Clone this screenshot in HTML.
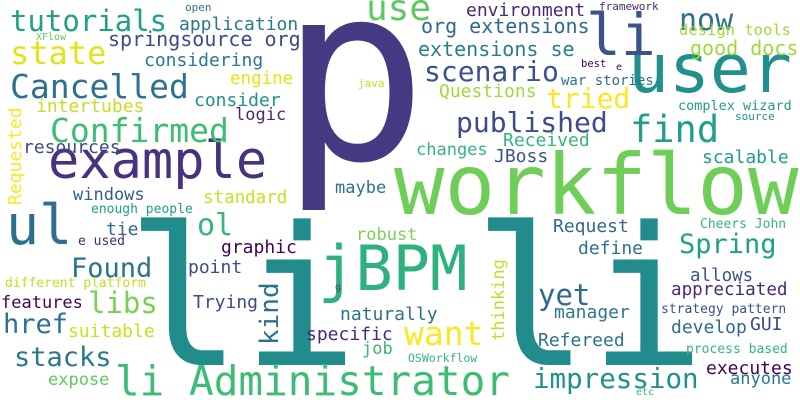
<!DOCTYPE html>
<html><head><meta charset="utf-8"><style>
html,body{margin:0;padding:0;background:#fff;}
svg{display:block;}
text{font-family:"DejaVu Sans Mono","Liberation Mono",monospace;}
</style></head>
<body>
<svg id="cloud" width="800" height="400" viewBox="0 0 800 400" xmlns="http://www.w3.org/2000/svg">
<rect width="800" height="400" fill="#fff"/>
</svg>
<script>
const words = ["p","workflow","li","li","jBPM","user","example","li","ul","li Administrator","find","Confirmed","Cancelled","use","state","want","Spring","kind","libs","yet","stacks","tutorials","Found","impression","published","scenario","tried","href","ol","now","springsource org","org extensions","extensions se","good docs","application","environment","considering","engine","consider","intertubes","logic","Requested","resources","windows","standard","maybe","Questions","Received","changes","JBoss","scalable","tie","graphic","point","Trying","robust","naturally","specific","job","features","suitable","expose","thinking","Request","define","manager","Refereed","allows","appreciated","GUI","develop","executes","anyone","war stories","design tools","complex wizard","enough people","e used","different platform","strategy pattern","Cheers John","process based","OSWorkflow","source","XFlow","open","framework","java","best","e","g","etc"];
const sizes = [245,84,193,193,62,68,52,58,55,41,37,33,33,36,32,33,27,26,29,29,27,29,27,27.5,28,28,28,27,30,30,20,20,20,20,18,18,18,17.5,18,18,17,18,18,17,17.5,17,18,18,17,18,18,18,18,18,18,17,18,18,17,17,18,17,17,18,18,18,18,17.5,17.6,18,18,18,17,14,15.5,13.5,13,13,13,13,13,13,11.5,11,10,11,11,11,10.5,10,10,10];
const colors = ["#443983","#6ece58","#228c8d","#228c8d","#2db27d","#21908d","#46327e","#3b528b","#2d708e","#3dbc74","#1f9e89","#3dbc74","#2c718e","#5ec962","#e2e418","#fde725","#1fa187","#2c718e","#7ad151","#31688e","#2a788e","#1fa187","#2c718e","#21918c","#3e4a89","#3b528b","#fde725","#2c718e","#35b779","#2c728e","#3e4a89","#31688e","#277f8e","#a0da39","#2a788e","#482878","#2a788e","#e2e418","#21918c","#c2df23","#482878","#fde725","#3e4a89","#365c8d","#c8e020","#2c728e","#a0da39","#35b779","#35b779","#3b528b","#1f9e89","#31688e","#440154","#3e4a89","#3e4a89","#7ad151","#2c718e","#482878","#35b779","#440154","#c8e020","#5ec962","#c2df23","#31688e","#2c728e","#2a788e","#2c728e","#3b528b","#482878","#3e4a89","#31688e","#440154","#2a788e","#2c728e","#a0da39","#1f9e89","#1fa187","#482878","#c2df23","#3b528b","#35b779","#35b779","#35b779","#21918c","#5ec962","#2a788e","#482878","#c2df23","#440154","#440154","#3e4a89","#35b779"];
const layoutX = [280,394,126,473,318,628,48,586,6,115,630,50,10,366,10,404,679,278,88,538,14,10,71,533,456,424,546,3,197,679,108,421,418,690,179,466,144,230,194,36,235,21,23,73,203,335,439,503,416,494,702,106,221,188,193,356,340,306,362,1,68,48,504,553,578,554,538,690,671,750,671,706,730,561,679,678,91,78,5,661,700,686,408,735,36,185,599,358,581,616,335,636];
const layoutY = [159,214,365,365,290,92,178,55,244,395,142,142,98,20,64,345,253,345,313,305,366,31,277,388,132,81,108,333,235,30,46,33,56,55,30,16,66,84,106,112,120,205,153,200,203,193,97,146,155,162,163,235,253,273,308,240,320,340,354,308,337,385,341,232,254,318,346,281,295,330,333,374,384,85,35,110,213,245,287,313,228,353,362,120,40,11,10,87,67,70,290,395];
const rotated = ["Requested","kind","thinking"];

const svg = document.getElementById('cloud');
const NS = 'http://www.w3.org/2000/svg';
for (let i = 0; i < words.length; i++) {
  const t = document.createElementNS(NS, 'text');
  
  
  t.setAttribute('x', layoutX[i]);
  t.setAttribute('y', layoutY[i]);
  t.setAttribute('font-size', sizes[i]);
  t.setAttribute('fill', colors[i]);
  if (rotated.includes(words[i])) {
    t.setAttribute('transform', 'rotate(-90 ' + layoutX[i] + ' ' + layoutY[i] + ')');
  }
  t.textContent = words[i];
  svg.appendChild(t);
}
</script>
</body></html>
